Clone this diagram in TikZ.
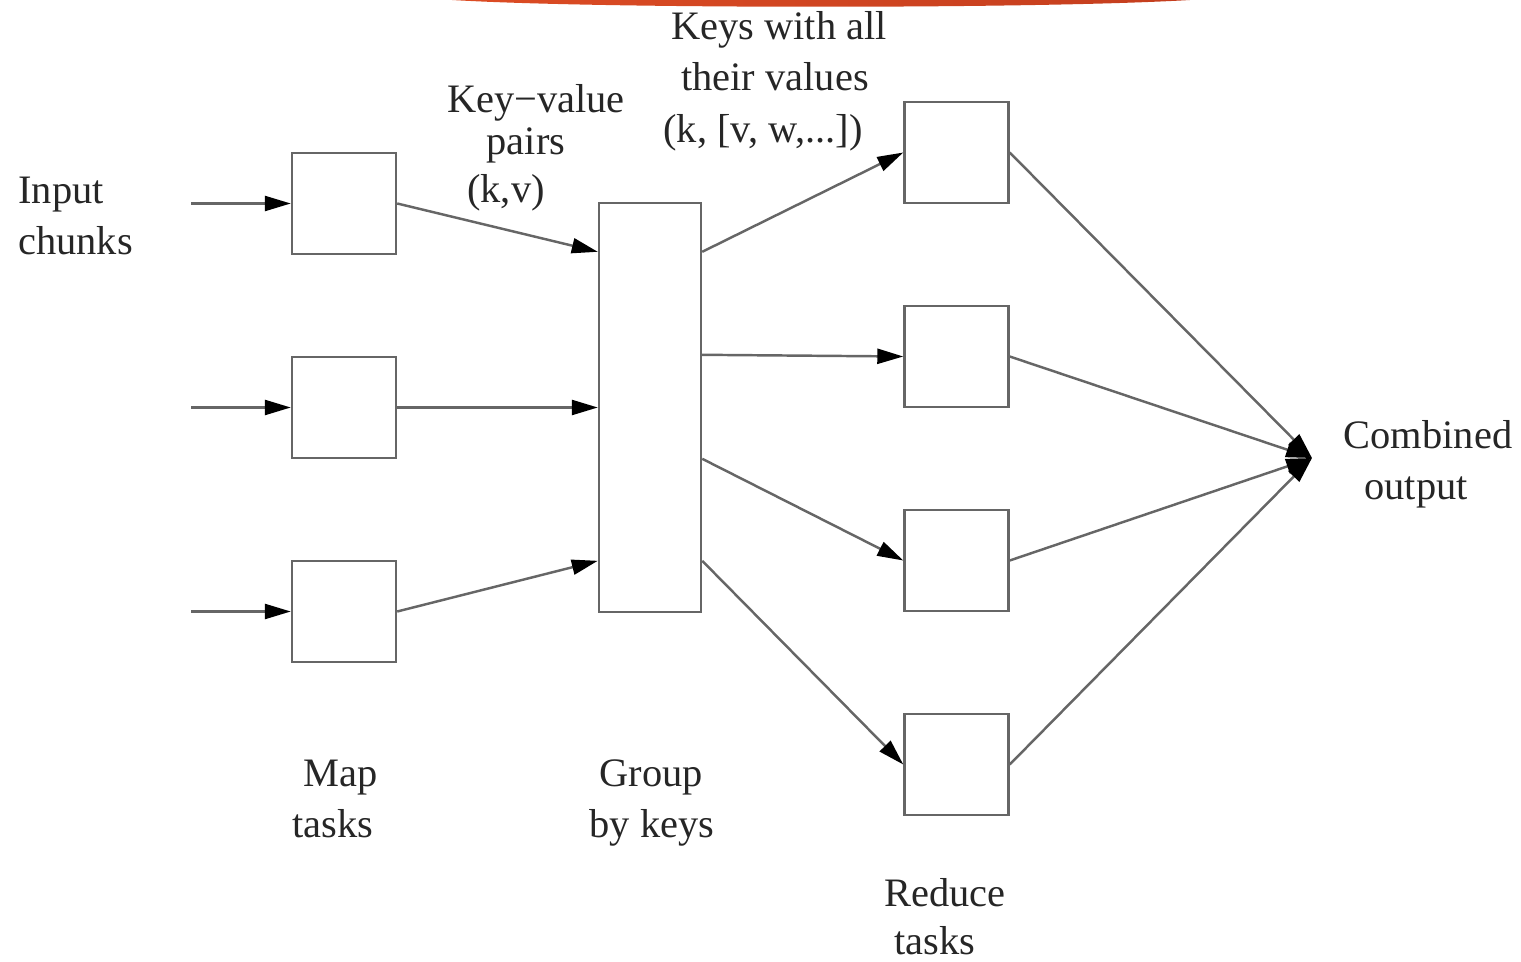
\documentclass[tikz,border=0pt]{standalone}
\usepackage{fontspec}
\setmainfont{Liberation Serif}
\usetikzlibrary{arrows.meta,calc}

\definecolor{bandeau}{RGB}{220,76,36}
\definecolor{bandeaufin}{RGB}{196,62,30}

\tikzset{
  tache/.style={draw=black!60, line width=1.4pt, minimum width=2.08cm, minimum height=2.02cm, inner sep=0pt},
  groupe/.style={draw=black!60, line width=1.4pt, minimum width=2.04cm, minimum height=8.18cm, inner sep=0pt},
  fleche/.style={draw=black!60, line width=1.4pt, -{Triangle[length=0.52cm,width=0.3cm,color=black]}},
  etiq/.style={font=\fontsize{23}{29}\selectfont, text=black!85, inner sep=0pt},
}

\begin{document}
\begin{tikzpicture}[x=0.02cm,y=-0.02cm]
  \useasboundingbox (0,0) rectangle (1521,962);
  %bandeau du haut
  \shade[left color=bandeau, right color=bandeaufin] (452,0) .. controls (600,9) and (1040,9) .. (1190,0) -- cycle;

  %MAP
  \node[tache] (M1) at (344,203.5) {};
  \node[tache] (M2) at (344,407.5) {};
  \node[tache] (M3) at (344,611.5) {};
  \coordinate (in1) at (191,203.5);
  \coordinate (in2) at (191,407.5);
  \coordinate (in3) at (191,611.5);
  \draw[fleche] (in1) -- (M1.west);
  \draw[fleche] (in2) -- (M2.west);
  \draw[fleche] (in3) -- (M3.west);

  %GROUP
  \node[groupe] (G) at (650,407.5) {};
  \coordinate (g1) at ($(G.north west)+(0,50)$);
  \coordinate (g3) at ($(G.north west)+(0,359)$);
  \draw[fleche] (M1.east) -- (g1);
  \draw[fleche] (M2.east) -- (G.west);
  \draw[fleche] (M3.east) -- (g3);

  %REDUCE
  \node[tache] (R1) at (956.5,152.5) {};
  \node[tache] (R2) at (956.5,356.5) {};
  \node[tache] (R3) at (956.5,560.5) {};
  \node[tache] (R4) at (956.5,764.5) {};
  \coordinate (s1) at ($(G.north east)+(0,50)$);
  \coordinate (s2) at ($(G.north east)+(0,153)$);
  \coordinate (s3) at ($(G.north east)+(0,257)$);
  \coordinate (s4) at ($(G.north east)+(0,359)$);
  \draw[fleche] (s1) -- (R1.west);
  \draw[fleche] (s2) -- (R2.west);
  \draw[fleche] (s3) -- (R3.west);
  \draw[fleche] (s4) -- (R4.west);

  %sortie
  \coordinate (out) at (1312,458);
  \foreach \r in {R1,R2,R3,R4}
    \draw[fleche] (\r.east) -- (out);

  %textes
  \node[etiq, anchor=base west] (tIn1) at (18,204) {Input};
  \node[etiq, anchor=base west] (tIn2) at (18,255) {chunks};
  \node[etiq, anchor=base] (tKv1) at (536,113) {Key\textminus value};
  \node[etiq, anchor=base] (tKv2) at (526,155) {pairs};
  \node[etiq, anchor=base] (tKv3) at (506,203) {(k,v)};
  \node[etiq, anchor=base] (tKw1) at (779,40) {Keys with all};
  \node[etiq, anchor=base] (tKw2) at (775,91) {their values};
  \node[etiq, anchor=base] (tKw3) at (763,143) {(k, [v, w,...])};
  \node[etiq, anchor=base] (tMap1) at (341,786) {Map};
  \node[etiq, anchor=base] (tMap2) at (333,837) {tasks};
  \node[etiq, anchor=base] (tGr1) at (651,786) {Group};
  \node[etiq, anchor=base] (tGr2) at (652,837) {by keys};
  \node[etiq, anchor=base] (tRe1) at (945,906) {Reduce};
  \node[etiq, anchor=base] (tRe2) at (935,954) {tasks};
  \node[etiq, anchor=base] (tCo1) at (1428,449) {Combined};
  \node[etiq, anchor=base] (tCo2) at (1416,500) {output};
\end{tikzpicture}
\end{document}
